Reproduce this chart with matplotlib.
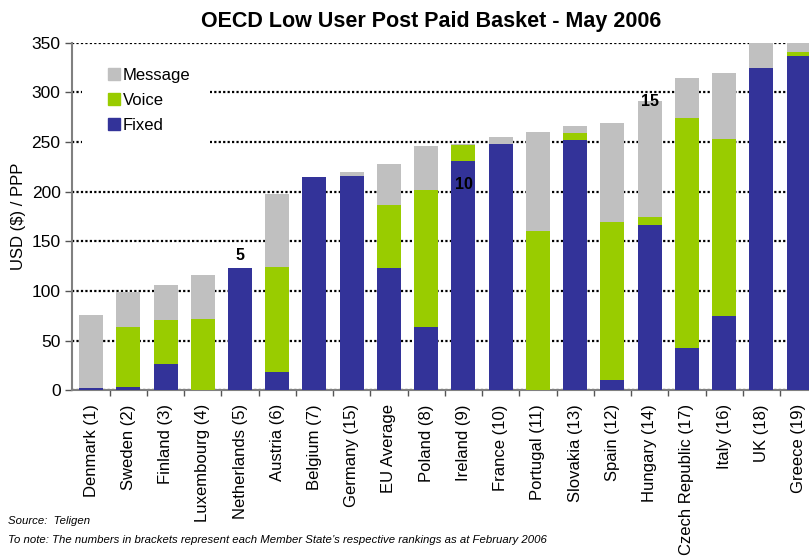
import matplotlib
matplotlib.use('Agg')
import matplotlib.pyplot as plt
from matplotlib.patches import Patch, Rectangle

# Datos
countries = ['Denmark (1)', 'Sweden (2)', 'Finland (3)', 'Luxembourg (4)', 'Netherlands (5)',
             'Austria (6)', 'Belgium (7)', 'Germany (15)', 'EU Average', 'Poland (8)',
             'Ireland (9)', 'France (10)', 'Portugal (11)', 'Slovakia (13)', 'Spain (12)',
             'Hungary (14)', 'Czech Republic (17)', 'Italy (16)', 'UK (18)', 'Greece (19)']
fixed = [2.5, 3.5, 26.5, 0, 123, 18.5, 215, 216, 123, 64,
         231, 248, 0, 252, 10.5, 166.5, 43, 75, 324.5, 336.5]
voice = [0, 60.5, 44.5, 72, 0, 105.5, 0, 0, 63.5, 138,
         16, 0, 160, 7, 159, 8, 231, 178, 0, 4]
message = [73.5, 35, 35, 44, 0, 74, 0, 4, 41.5, 44,
           1.5, 7, 100, 7, 99.5, 116.5, 40.5, 66.5, 30, 15]
rank_marks = ['5', '10', '15']
rank_pos = [4, 10, 15]
rank_y = [136, 207, 291]

c_fixed = '#333399'
c_voice = '#99CC00'
c_msg = '#C0C0C0'

plt.rcParams['font.family'] = ['Liberation Sans', 'DejaVu Sans']

fig = plt.figure(figsize=(8.09, 5.58), dpi=100)
ax = fig.add_axes([0.0886, 0.3005, 0.9225, 0.623])

x = list(range(len(countries)))
w = 0.645
bot2 = [f + v for f, v in zip(fixed, voice)]
ax.bar(x, fixed, w, color=c_fixed, zorder=3)
ax.bar(x, voice, w, bottom=fixed, color=c_voice, zorder=3)
ax.bar(x, message, w, bottom=bot2, color=c_msg, zorder=3)

for t, i, yy in zip(rank_marks, rank_pos, rank_y):
    ax.text(i, yy, t, ha='center', va='center', fontsize=11.5, fontweight='bold', zorder=5)

ax.set_xlim(-0.52, len(countries) - 0.48)
ax.set_ylim(0, 350)
ax.set_yticks(range(0, 351, 50))
ax.yaxis.grid(True, color='black', linestyle=(0, (1, 1)), linewidth=1.6)
ax.set_axisbelow(True)

ax.set_xticks(x)
ax.set_xticklabels(countries, rotation=90, fontsize=12)
ax.set_xticks([i + 0.5 for i in x], minor=True)
ax.tick_params(axis='x', which='major', length=0, pad=10)
ax.tick_params(axis='x', which='minor', length=4, direction='out', color='#555555', width=1)
ax.tick_params(axis='y', length=5, color='#555555', width=1, labelsize=12.5, pad=3)

for s in ['top', 'right']:
    ax.spines[s].set_visible(False)
for s in ['left', 'bottom']:
    ax.spines[s].set_color('#808080')
    ax.spines[s].set_linewidth(1.5)

ax.set_ylabel('USD ($) / PPP', fontsize=12, labelpad=4)
fig.text(431 / 809, 0.962, 'OECD Low User Post Paid Basket - May 2006', ha='center', va='center',
         fontsize=15.5, fontweight='bold')

# hueco blanco detras de la leyenda
ax.add_patch(Rectangle((82 / 809, 1 - 150 / 558), 128 / 809, 95 / 558, transform=fig.transFigure,
                       facecolor='white', edgecolor='none', zorder=1, clip_on=False))

handles = [Patch(color=c_msg), Patch(color=c_voice), Patch(color=c_fixed)]
leg = ax.legend(handles, ['Message', 'Voice', 'Fixed'], loc='upper left',
                bbox_to_anchor=(101 / 809, 1 - 61 / 558), bbox_transform=fig.transFigure,
                fontsize=12, frameon=False, handlelength=0.75, handleheight=0.75, handletextpad=0.15,
                labelspacing=0.6, borderpad=0.4, borderaxespad=0)
leg.set_zorder(4)

fig.text(8 / 809, 1 - 521 / 558, 'Source:  Teligen', fontsize=8.2, style='italic', va='center')
fig.text(8 / 809, 1 - 540 / 558,
         'To note: The numbers in brackets represent each Member State\u2019s respective rankings as at February 2006',
         fontsize=8.2, style='italic', va='center')

fig.savefig('out.png', dpi=100)
